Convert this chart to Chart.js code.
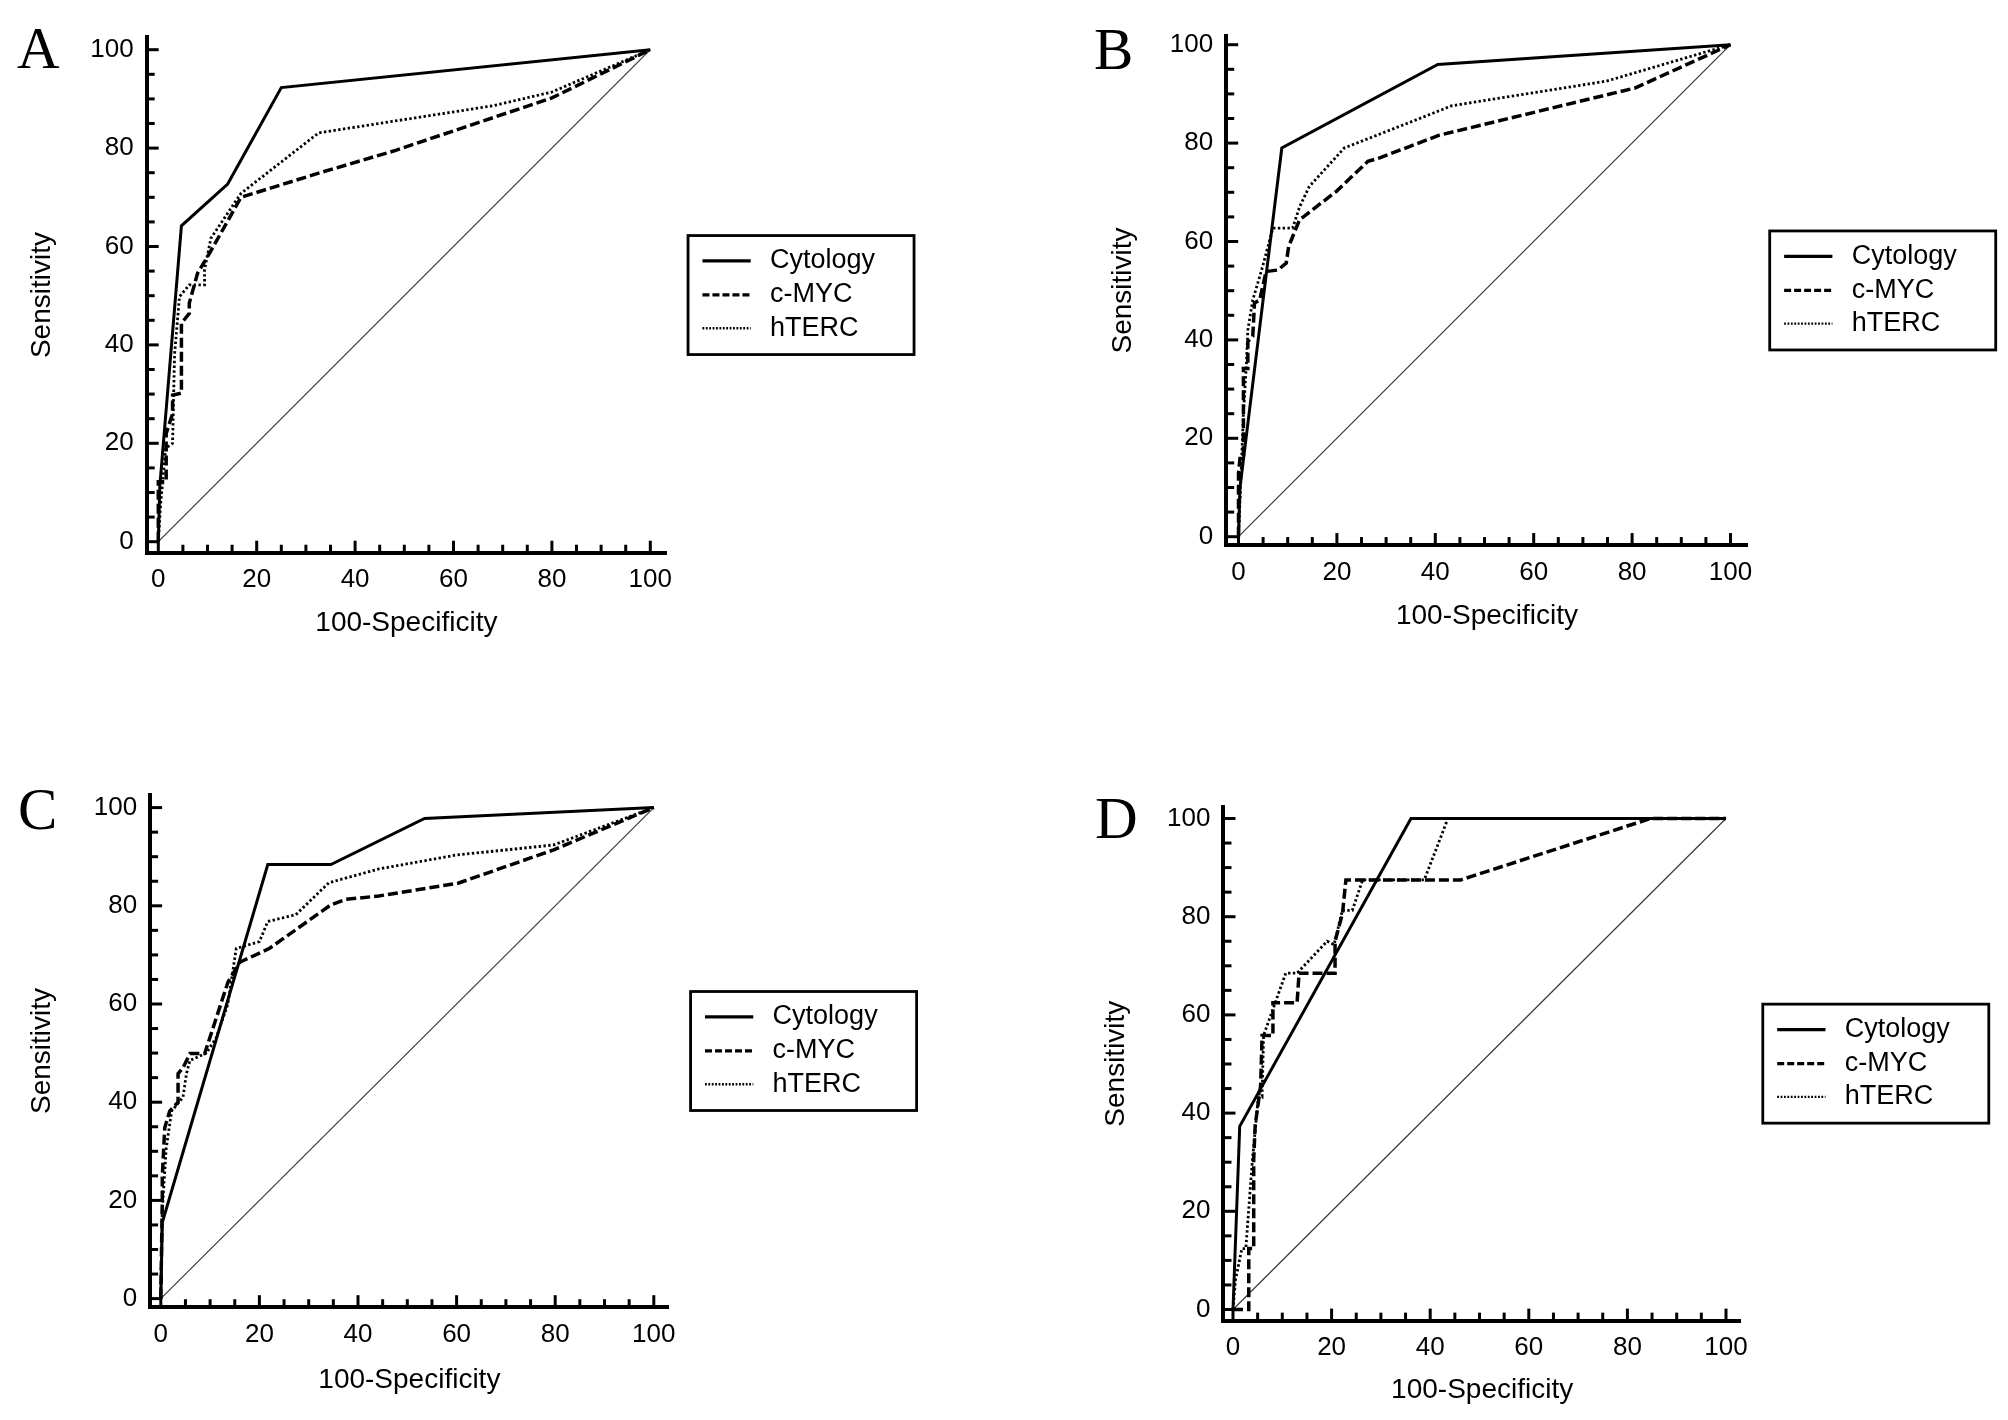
<!DOCTYPE html>
<html><head><meta charset="utf-8">
<script src="https://cdn.jsdelivr.net/npm/chart.js@4.4.1/dist/chart.umd.min.js"></script>
<style>
html,body{margin:0;padding:0;background:#fff;}
#page{position:relative;width:2008px;height:1420px;overflow:hidden;background:#fff;}
#page canvas{position:absolute;}
.panel-letter{position:absolute;font-family:'Liberation Serif','Times New Roman',serif;font-size:59px;line-height:59px;color:#000;}
</style></head><body><div id="page"></div>
<script>
// ---------- text ----------
const seriesNames = ['Cytology', 'c-MYC', 'hTERC'];
const xAxisTitle = '100-Specificity';
const yAxisTitle = 'Sensitivity';
const panelLetters = ['A', 'B', 'C', 'D'];

// ---------- ticks ----------
const majorTicks = [0, 20, 40, 60, 80, 100];
const minorTicks = [5, 10, 15, 25, 30, 35, 45, 50, 55, 65, 70, 75, 85, 90, 95];

// ---------- reference diagonal ----------
const diagonalX = [0, 100];
const diagonalY = [0, 100];

// ---------- Panel A ----------
const aCytologyX = [0, 0.3, 4.7, 14.1, 25.0, 100];
const aCytologyY = [0, 11.2, 64.2, 72.7, 92.3, 100];
const aMycX = [0, 0, 1.6, 1.6, 2.9, 2.9, 4.7, 4.7, 6.3, 6.3, 8.0, 10.4, 16.8, 32.9, 47.8, 80.0, 100];
const aMycY = [0, 12.2, 12.2, 22.0, 26.0, 29.8, 30.2, 44.4, 46.4, 48.5, 54.6, 58.6, 70.0, 75.0, 79.4, 90.2, 100];
const aTercX = [0, 0.5, 1.5, 2.9, 3.3, 4.3, 6.3, 9.4, 9.4, 10.7, 16.8, 32.6, 68.0, 80.0, 100];
const aTercY = [0, 8.0, 19.0, 20.0, 38.0, 49.8, 52.2, 52.2, 55.3, 61.7, 70.8, 83.1, 88.6, 91.4, 100];

// ---------- Panel B ----------
const bCytologyX = [0, 0.3, 8.8, 40.5, 100];
const bCytologyY = [0, 10.0, 79.0, 96.0, 100];
const bMycX = [0, 0, 0.3, 1.0, 1.0, 1.9, 1.9, 2.9, 3.25, 4.3, 5.6, 8.0, 9.7, 10.2, 12.4, 19.9, 26.3, 28.7, 40.8, 80.6, 100];
const bMycY = [0, 12.9, 15.9, 15.9, 34.2, 34.2, 39.7, 40.7, 47.5, 48.1, 53.9, 54.2, 55.6, 59.0, 64.4, 70.2, 76.3, 77.0, 81.6, 91.2, 100];
const bTercX = [0, 0.5, 1.0, 1.6, 1.9, 2.9, 4.9, 7.0, 11.0, 12.4, 14.4, 21.5, 43.4, 74.8, 100];
const bTercY = [0, 12.0, 25.0, 35.0, 42.0, 48.1, 54.9, 62.7, 62.7, 67.0, 71.2, 79.0, 87.6, 92.6, 100];

// ---------- Panel C ----------
const cCytologyX = [0, 0.3, 21.7, 34.5, 53.5, 100];
const cCytologyY = [0, 15.5, 88.4, 88.4, 97.8, 100];
const cMycX = [0, 0.3, 0.3, 0.8, 1.8, 3.5, 3.5, 4.5, 5.9, 8.9, 13.6, 16.0, 22.0, 34.5, 37.5, 44.2, 60.3, 79.7, 100];
const cMycY = [0, 20.0, 24.8, 34.8, 38.2, 40.0, 45.8, 47.0, 49.9, 49.9, 64.4, 68.5, 71.3, 80.2, 81.3, 82.0, 84.6, 91.4, 100];
const cTercX = [0, 0.3, 1.1, 2.2, 4.5, 5.2, 5.9, 9.2, 11.2, 13.6, 15.3, 20.0, 21.7, 27.4, 34.1, 44.2, 59.7, 79.7, 100];
const cTercY = [0, 18.0, 30.6, 38.2, 41.0, 45.8, 48.5, 50.0, 53.0, 60.0, 71.3, 72.7, 76.8, 78.2, 84.7, 87.5, 90.3, 92.4, 100];

// ---------- Panel D ----------
const dCytologyX = [0, 1.36, 36.1, 100];
const dCytologyY = [0, 37.3, 100, 100];
const dMycX = [0, 3.2, 3.2, 4.2, 4.2, 4.5, 5.6, 5.9, 8.1, 8.1, 13.0, 13.4, 20.7, 20.7, 22.2, 22.9, 46.2, 84.7, 100];
const dMycY = [0, 0, 12.4, 12.4, 30.6, 37.5, 45.5, 55.8, 55.8, 62.5, 62.5, 68.5, 68.5, 75.0, 80.6, 87.5, 87.5, 100, 100];
const dTercX = [0, 0.5, 1.8, 2.6, 3.9, 5.2, 5.9, 6.2, 10.7, 13.0, 19.1, 20.5, 22.2, 24.2, 26.3, 38.8, 43.6, 100];
const dTercY = [0, 6.0, 12.4, 12.4, 30.0, 44.0, 43.4, 55.8, 68.5, 68.5, 75.0, 74.3, 81.3, 81.3, 87.5, 87.5, 100, 100];

// ---------- layout (page pixels) ----------
const FONT = "'Liberation Sans', Arial, Helvetica, sans-serif";
const TICK_FONT_SIZE = 26, TITLE_FONT_SIZE = 28, LEGEND_FONT_SIZE = 27;
const panelLayouts = [
  {px: 0,    py: 0,   x0: 158.3,  ux: 4.92, y0: 541.7,  uy: 4.92, xmin: -2.36, xmax: 103.2, ymin: -2.24, ymax: 102.5, yTitleX: 42,     xTitleY: 623, letterX: 17,   letterTop: 19},
  {px: 1004, py: 0,   x0: 1238.5, ux: 4.92, y0: 536.7,  uy: 4.92, xmin: -2.5,  xmax: 103.5, ymin: -1.7,  ymax: 101.8, yTitleX: 1123,   xTitleY: 616, letterX: 1094, letterTop: 20},
  {px: 0,    py: 710, x0: 160.8,  ux: 4.93, y0: 1298.6, uy: 4.91, xmin: -2.17, xmax: 103.0, ymin: -1.75, ymax: 102.6, yTitleX: 42.3,   xTitleY: 1380.5, letterX: 18,  letterTop: 780},
  {px: 1004, py: 710, x0: 1233,   ux: 4.93, y0: 1309.5, uy: 4.91, xmin: -1.93, xmax: 103.0, ymin: -2.26, ymax: 102.4, yTitleX: 1116.7, xTitleY: 1390.5, letterX: 1095, letterTop: 789}
];
const PANEL_W = 1004, PANEL_H = 710;

const panelSeries = [
  [[aCytologyX, aCytologyY], [aMycX, aMycY], [aTercX, aTercY]],
  [[bCytologyX, bCytologyY], [bMycX, bMycY], [bTercX, bTercY]],
  [[cCytologyX, cCytologyY], [cMycX, cMycY], [cTercX, cTercY]],
  [[dCytologyX, dCytologyY], [dMycX, dMycY], [dTercX, dTercY]]
];

const seriesStyles = [
  {borderWidth: 3,   borderDash: [],         legendWidth: 3.2, legendDash: []},
  {borderWidth: 3.5, borderDash: [10, 4],    legendWidth: 3.2, legendDash: [7, 3]},
  {borderWidth: 2.8, borderDash: [2.4, 2.4], legendWidth: 2.4, legendDash: [1.8, 1.6]}
];

function zip(xs, ys) { return xs.map((x, i) => ({x: x, y: ys[i]})); }

const rocDecor = {
  id: 'rocDecor',
  afterDraw(chart) {
    const ctx = chart.ctx, ca = chart.chartArea;
    const xs = chart.scales.x, ys = chart.scales.y;
    ctx.save();
    ctx.strokeStyle = '#000';
    ctx.lineCap = 'butt';
    ctx.lineWidth = 3;
    const drawTicks = (vals, len) => {
      vals.forEach(v => {
        const px = xs.getPixelForValue(v);
        ctx.beginPath(); ctx.moveTo(px, ca.bottom); ctx.lineTo(px, ca.bottom - len); ctx.stroke();
        const py = ys.getPixelForValue(v);
        ctx.beginPath(); ctx.moveTo(ca.left, py); ctx.lineTo(ca.left + len, py); ctx.stroke();
      });
    };
    drawTicks(majorTicks, 12);
    drawTicks(minorTicks, 8);

    // legend box
    const bw = 226, bh = 119;
    const bx = ca.right + 22;
    const by = (ca.top + ca.bottom) / 2 - bh / 2;
    ctx.lineWidth = 2.8;
    ctx.setLineDash([]);
    ctx.strokeRect(bx, by, bw, bh);
    const rows = [25.4, 59.4, 92.7];
    ctx.font = LEGEND_FONT_SIZE + 'px ' + FONT;
    ctx.fillStyle = '#000';
    ctx.textBaseline = 'middle';
    ctx.textAlign = 'left';
    chart.data.datasets.filter(d => !d.isReference).forEach((d, i) => {
      const y = by + rows[i];
      ctx.lineWidth = d.legendWidth;
      ctx.setLineDash(d.legendDash);
      ctx.beginPath(); ctx.moveTo(bx + 14.4, y); ctx.lineTo(bx + 62.7, y); ctx.stroke();
      ctx.setLineDash([]);
      ctx.fillText(d.label, bx + 82, y);
    });
    ctx.restore();
  }
};

const page = document.getElementById('page');
const half = TITLE_FONT_SIZE * 1.2 / 2;

panelLayouts.forEach((L, p) => {
  const letter = document.createElement('div');
  letter.className = 'panel-letter';
  letter.textContent = panelLetters[p];
  letter.style.left = L.letterX + 'px';
  letter.style.top = L.letterTop + 'px';
  page.appendChild(letter);

  const canvas = document.createElement('canvas');
  canvas.width = PANEL_W; canvas.height = PANEL_H;
  canvas.style.left = L.px + 'px'; canvas.style.top = L.py + 'px';
  canvas.style.width = PANEL_W + 'px'; canvas.style.height = PANEL_H + 'px';
  page.appendChild(canvas);

  const caLeft = L.x0 + L.xmin * L.ux;
  const caRight = L.x0 + L.xmax * L.ux;
  const caTop = L.y0 - L.ymax * L.uy;
  const caBottom = L.y0 - L.ymin * L.uy;
  const padLeft = L.yTitleX - half - L.px;
  const yScaleW = caLeft - L.px - padLeft;
  const padTop = caTop - L.py;
  const padRight = L.px + PANEL_W - caRight;
  const xScaleBottom = L.xTitleY + half;
  const xScaleH = xScaleBottom - caBottom;
  const padBottom = L.py + PANEL_H - xScaleBottom;

  const datasets = panelSeries[p].map((s, i) => ({
    label: seriesNames[i],
    data: zip(s[0], s[1]),
    borderColor: '#000',
    backgroundColor: '#000',
    borderWidth: seriesStyles[i].borderWidth,
    borderDash: seriesStyles[i].borderDash,
    legendWidth: seriesStyles[i].legendWidth,
    legendDash: seriesStyles[i].legendDash,
    showLine: true, fill: false, tension: 0, pointRadius: 0, pointHoverRadius: 0
  }));
  datasets.push({
    label: 'reference', isReference: true,
    data: zip(diagonalX, diagonalY),
    borderColor: '#3a3a3a', borderWidth: 1.2, showLine: true, fill: false, pointRadius: 0
  });

  const axisCommon = (title, size, isX) => ({
    type: 'linear',
    position: isX ? 'bottom' : 'left',
    min: isX ? L.xmin : L.ymin,
    max: isX ? L.xmax : L.ymax,
    afterBuildTicks: sc => { sc.ticks = majorTicks.map(v => ({value: v})); },
    afterFit: sc => { if (isX) sc.height = size; else sc.width = size; },
    grid: {display: true, drawOnChartArea: false, drawTicks: false},
    border: {display: true, color: '#000', width: 4},
    ticks: {
      autoSkip: false, maxRotation: 0, minRotation: 0,
      padding: isX ? 12 : 13,
      color: '#000',
      font: {family: FONT, size: TICK_FONT_SIZE},
      callback: v => String(v)
    },
    title: {display: true, text: title, color: '#000', padding: 0,
            font: {family: FONT, size: TITLE_FONT_SIZE}}
  });

  new Chart(canvas, {
    type: 'scatter',
    data: {datasets: datasets},
    options: {
      responsive: false, animation: false, devicePixelRatio: 1,
      layout: {padding: {left: padLeft, top: padTop, right: padRight, bottom: padBottom}},
      plugins: {legend: {display: false}, tooltip: {enabled: false}},
      scales: {
        x: axisCommon(xAxisTitle, xScaleH, true),
        y: axisCommon(yAxisTitle, yScaleW, false)
      }
    },
    plugins: [rocDecor]
  });
});
</script></body></html>
